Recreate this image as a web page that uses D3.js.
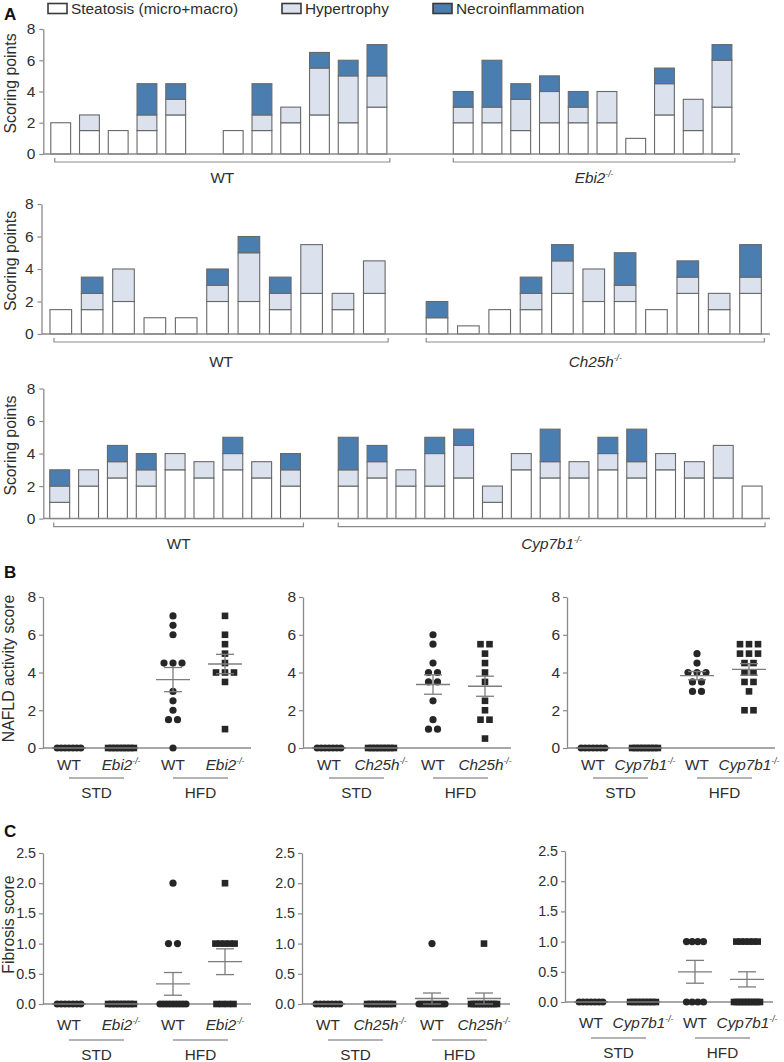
<!DOCTYPE html>
<html><head><meta charset="utf-8">
<script src="https://cdn.jsdelivr.net/npm/d3@7"></script>
<style>
body{margin:0;background:#fff;}
svg text{font-family:"Liberation Sans",Arial,Helvetica,sans-serif;}
</style></head><body>
<svg id="fig" width="784" height="1062"></svg>
<script>
// ---------------- DATA ----------------
const legendLabels = ["Steatosis (micro+macro)", "Hypertrophy", "Necroinflammation"];
const koNames = ["Ebi2", "Ch25h", "Cyp7b1"];
const yTicksA = [0, 2, 4, 6, 8];
const yTicksB = [0, 2, 4, 6, 8];
const yTicksC = [0, 0.5, 1.0, 1.5, 2.0, 2.5];
const groupLabels = ["WT", "KO", "WT", "KO"];
const dietLabels = ["STD", "HFD"];

// Panel A, row 1: WT vs Ebi2-/-
const a1WT_steat = [2, 1.5, 1.5, 1.5, 2.5, 0, 1.5, 1.5, 2, 2.5, 2, 3];
const a1WT_hyp   = [0, 1, 0, 1, 1, 0, 0, 1, 1, 3, 3, 2];
const a1WT_nec   = [0, 0, 0, 2, 1, 0, 0, 2, 0, 1, 1, 2];
const a1KO_steat = [2, 2, 1.5, 2, 2, 2, 1, 2.5, 1.5, 3];
const a1KO_hyp   = [1, 1, 2, 2, 1, 2, 0, 2, 2, 3];
const a1KO_nec   = [1, 3, 1, 1, 1, 0, 0, 1, 0, 1];
// Panel A, row 2: WT vs Ch25h-/-
const a2WT_steat = [1.5, 1.5, 2, 1, 1, 2, 2, 1.5, 2.5, 1.5, 2.5];
const a2WT_hyp   = [0, 1, 2, 0, 0, 1, 3, 1, 3, 1, 2];
const a2WT_nec   = [0, 1, 0, 0, 0, 1, 1, 1, 0, 0, 0];
const a2KO_steat = [1, 0.5, 1.5, 1.5, 2.5, 2, 2, 1.5, 2.5, 1.5, 2.5];
const a2KO_hyp   = [0, 0, 0, 1, 2, 2, 1, 0, 1, 1, 1];
const a2KO_nec   = [1, 0, 0, 1, 1, 0, 2, 0, 1, 0, 2];
// Panel A, row 3: WT vs Cyp7b1-/-
const a3WT_steat = [1, 2, 2.5, 2, 3, 2.5, 3, 2.5, 2];
const a3WT_hyp   = [1, 1, 1, 1, 1, 1, 1, 1, 1];
const a3WT_nec   = [1, 0, 1, 1, 0, 0, 1, 0, 1];
const a3KO_steat = [2, 2.5, 2, 2, 2.5, 1, 3, 2.5, 2.5, 3, 2.5, 3, 2.5, 2.5, 2];
const a3KO_hyp   = [1, 1, 1, 2, 2, 1, 1, 1, 1, 1, 1, 1, 1, 2, 0];
const a3KO_nec   = [2, 1, 0, 1, 1, 0, 0, 2, 0, 1, 2, 0, 0, 0, 0];

// Panel B: NAFLD activity score (WT STD, KO STD, WT HFD, KO HFD)
const b1WT_STD = [0, 0, 0, 0, 0, 0, 0];
const b1KO_STD = [0, 0, 0, 0, 0, 0, 0, 0];
const b1WT_HFD = [7, 6.5, 6, 4.5, 4.5, 4.5, 3, 2.5, 2, 1.5, 1.5, 0];
const b1KO_HFD = [7, 6, 5.5, 5, 4.5, 4, 4, 4, 3.5, 1];
const b2WT_STD = [0, 0, 0, 0, 0, 0, 0];
const b2KO_STD = [0, 0, 0, 0, 0, 0, 0, 0];
const b2WT_HFD = [6, 5.5, 4.5, 4, 4, 3.5, 3.5, 2.5, 1.5, 1, 1];
const b2KO_HFD = [5.5, 5.5, 5, 4.5, 4, 3.5, 2.5, 2, 1.5, 1.5, 0.5];
const b3WT_STD = [0, 0, 0, 0, 0, 0, 0];
const b3KO_STD = [0, 0, 0, 0, 0, 0, 0, 0];
const b3WT_HFD = [5, 4.5, 4, 4, 4, 3.5, 3.5, 3, 3];
const b3KO_HFD = [5.5, 5.5, 5.5, 5, 5, 5, 4.5, 4.5, 4, 4, 3.5, 3.5, 3, 2, 2];

// Panel C: Fibrosis score
const c1WT_STD = [0, 0, 0, 0, 0, 0, 0];
const c1KO_STD = [0, 0, 0, 0, 0, 0, 0, 0];
const c1WT_HFD = [2, 1, 1, 0, 0, 0, 0, 0, 0, 0, 0, 0];
const c1KO_HFD = [2, 1, 1, 1, 1, 1, 0, 0, 0, 0];
const c2WT_STD = [0, 0, 0, 0, 0, 0, 0];
const c2KO_STD = [0, 0, 0, 0, 0, 0, 0, 0];
const c2WT_HFD = [1, 0, 0, 0, 0, 0, 0, 0, 0, 0, 0];
const c2KO_HFD = [1, 0, 0, 0, 0, 0, 0, 0, 0, 0, 0];
const c3WT_STD = [0, 0, 0, 0, 0, 0, 0];
const c3KO_STD = [0, 0, 0, 0, 0, 0, 0, 0];
const c3WT_HFD = [1, 1, 1, 1, 0, 0, 0, 0];
const c3KO_HFD = [1, 1, 1, 1, 1, 1, 0, 0, 0, 0, 0, 0, 0, 0, 0, 0];

// ---------------- STYLE ----------------
const svg = d3.select("#fig");
const FILLS = ["#ffffff", "#dbe2ee", "#4a7db0"];
const BAR_STROKE = "#686868";
const AXIS = "#8a8a8a";
const TXT = "#2e2e2e";
const DOT = "#262626";
const MEAN = "#7d7d7d";
const FS_TICK = 15.5, FS_TICK_C = 14.3, FS_TITLE = 15.8, FS_LAB = 15.3;

function styleAxis(g, fs) {
  g.select(".domain").attr("stroke", AXIS).attr("stroke-width", 1.3);
  g.selectAll(".tick line").attr("stroke", AXIS).attr("stroke-width", 1.2);
  g.selectAll(".tick text").attr("fill", TXT).style("font-size", fs + "px");
}
function koLabel(sel, name) {
  sel.append("tspan").text(name).style("font-style", "italic");
  sel.append("tspan").text("-/-").style("font-style", "italic")
    .attr("font-size", 8.5).attr("dy", -6);
}

// Panel letters
[["A", 20], ["B", 578], ["C", 837]].forEach(([t, y]) =>
  svg.append("text").attr("x", 4).attr("y", y).text(t)
    .attr("font-weight", "bold").attr("font-size", 17).attr("fill", "#111"));

// Legend
const legendPos = [{bx: 48, tx: 71}, {bx: 282, tx: 305}, {bx: 433, tx: 456}];
legendLabels.forEach((lab, i) => {
  svg.append("rect").attr("x", legendPos[i].bx).attr("y", 3.5).attr("width", 19).attr("height", 10)
    .attr("fill", FILLS[i]).attr("stroke", "#3a3a3a").attr("stroke-width", 1.6);
  svg.append("text").attr("x", legendPos[i].tx).attr("y", 13.8).text(lab)
    .attr("font-size", 15.4).attr("fill", TXT);
});

// ---------------- PANEL A ----------------
const rows = [
  {s: [a1WT_steat, a1KO_steat], h: [a1WT_hyp, a1KO_hyp], n: [a1WT_nec, a1KO_nec], ko: koNames[0],
   gap: 2, yTop: 29, yBot: 154, axisX: 43.3, xEnd: 740, start: 60.7, step: 28.75, labY: 183},
  {s: [a2WT_steat, a2KO_steat], h: [a2WT_hyp, a2KO_hyp], n: [a2WT_nec, a2KO_nec], ko: koNames[1],
   gap: 1, yTop: 204, yBot: 334, axisX: 41.5, xEnd: 770, start: 60.8, step: 31.35, labY: 367},
  {s: [a3WT_steat, a3KO_steat], h: [a3WT_hyp, a3KO_hyp], n: [a3WT_nec, a3KO_nec], ko: koNames[2],
   gap: 1, yTop: 388.5, yBot: 518.6, axisX: 43.3, xEnd: 770, start: 59.7, step: 28.85, labY: 549}
];

rows.forEach(cfg => {
  const nW = cfg.s[0].length, nK = cfg.s[1].length;
  const nSlots = nW + cfg.gap + nK;
  const x = d3.scaleBand().domain(d3.range(nSlots))
    .range([cfg.start - cfg.step / 2, cfg.start - cfg.step / 2 + nSlots * cfg.step])
    .paddingInner(0.31).paddingOuter(0.155);
  const y = d3.scaleLinear().domain([0, 8]).range([cfg.yBot, cfg.yTop]);
  const recs = [];
  cfg.s[0].forEach((v, i) => recs.push({slot: i, steat: v, hyp: cfg.h[0][i], nec: cfg.n[0][i]}));
  cfg.s[1].forEach((v, i) => recs.push({slot: nW + cfg.gap + i, steat: v, hyp: cfg.h[1][i], nec: cfg.n[1][i]}));
  const layers = d3.stack().keys(["steat", "hyp", "nec"])(recs);
  const g = svg.append("g");
  layers.forEach((layer, li) => {
    g.selectAll(null).data(layer.filter(d => d[1] - d[0] > 0)).join("rect")
      .attr("x", d => x(d.data.slot)).attr("width", x.bandwidth())
      .attr("y", d => y(d[1])).attr("height", d => y(d[0]) - y(d[1]))
      .attr("fill", FILLS[li]).attr("stroke", BAR_STROKE).attr("stroke-width", 1.1);
  });
  const ax = g.append("g").attr("transform", `translate(${cfg.axisX},0)`)
    .call(d3.axisLeft(y).tickValues(yTicksA).tickSize(4).tickSizeOuter(0).tickPadding(4));
  styleAxis(ax, FS_TICK);
  g.append("line").attr("x1", cfg.axisX).attr("x2", cfg.xEnd).attr("y1", y(0)).attr("y2", y(0))
    .attr("stroke", AXIS).attr("stroke-width", 1.5);
  // brackets
  const groups = [[0, nW - 1, "WT"], [nW + cfg.gap, nSlots - 1, cfg.ko]];
  groups.forEach(([a, b, lab], gi) => {
    const x1 = x(a) + (gi === 0 ? 4 : 0), x2 = x(b) + x.bandwidth() + 3, by = y(0) + 8;
    g.append("path").attr("d", `M${x1},${by - 4}V${by}H${x2}V${by - 4}`)
      .attr("fill", "none").attr("stroke", AXIS).attr("stroke-width", 1.2);
    const t = g.append("text").attr("x", (x1 + x2) / 2).attr("y", cfg.labY)
      .attr("text-anchor", "middle").attr("font-size", FS_LAB).attr("fill", TXT);
    if (gi === 0) t.text(lab); else koLabel(t, lab);
  });
  svg.append("text").attr("transform", `translate(15.5,${(cfg.yTop + cfg.yBot) / 2 - 8}) rotate(-90)`)
    .attr("text-anchor", "middle").attr("font-size", FS_TITLE).attr("fill", TXT).text("Scoring points");
});

// ---------------- PANELS B & C ----------------
const scatterPanels = [
  {x0: 43,  y0: 748, y1: 597, dom: [0, 8], ticks: yTicksB, fmt: d3.format("d"), ko: koNames[0], fs: FS_TICK,
   data: [b1WT_STD, b1KO_STD, b1WT_HFD, b1KO_HFD], off: [22, 30, 50], title: "NAFLD activity score"},
  {x0: 303, y0: 748, y1: 597, dom: [0, 8], ticks: yTicksB, fmt: d3.format("d"), ko: koNames[1], fs: FS_TICK,
   data: [b2WT_STD, b2KO_STD, b2WT_HFD, b2KO_HFD], off: [22, 30, 50]},
  {x0: 567, y0: 748, y1: 597, dom: [0, 8], ticks: yTicksB, fmt: d3.format("d"), ko: koNames[2], fs: FS_TICK,
   data: [b3WT_STD, b3KO_STD, b3WT_HFD, b3KO_HFD], off: [22, 30, 50]},
  {x0: 43,  y0: 1004, y1: 853, dom: [0, 2.5], ticks: yTicksC, fmt: d3.format(".1f"), ko: koNames[0], fs: FS_TICK_C,
   data: [c1WT_STD, c1KO_STD, c1WT_HFD, c1KO_HFD], off: [26, 36, 56], title: "Fibrosis score"},
  {x0: 302, y0: 1004, y1: 853, dom: [0, 2.5], ticks: yTicksC, fmt: d3.format(".1f"), ko: koNames[1], fs: FS_TICK_C,
   data: [c2WT_STD, c2KO_STD, c2WT_HFD, c2KO_HFD], off: [26, 36, 56]},
  {x0: 565, y0: 1002, y1: 851, dom: [0, 2.5], ticks: yTicksC, fmt: d3.format(".1f"), ko: koNames[2], fs: FS_TICK_C,
   data: [c3WT_STD, c3KO_STD, c3WT_HFD, c3KO_HFD], off: [26, 36, 56]}
];

scatterPanels.forEach(p => {
  const W = 208;
  const g = svg.append("g");
  const y = d3.scaleLinear().domain(p.dom).range([p.y0, p.y1]);
  const x = d3.scalePoint().domain(d3.range(4)).range([p.x0, p.x0 + W]).padding(0.5);
  const ax = g.append("g").attr("transform", `translate(${p.x0},0)`)
    .call(d3.axisLeft(y).tickValues(p.ticks).tickFormat(p.fmt).tickSize(4).tickSizeOuter(0).tickPadding(3));
  styleAxis(ax, p.fs);
  g.append("line").attr("x1", p.x0).attr("x2", p.x0 + W).attr("y1", y(0)).attr("y2", y(0))
    .attr("stroke", AXIS).attr("stroke-width", 1.3);

  p.data.forEach((vals, gi) => {
    const cx = x(gi);
    const byVal = d3.group(vals, v => v);
    const pts = [];
    byVal.forEach((arr, v) => {
      const n = arr.length;
      const span = n <= 3 ? 9 * (n - 1) : Math.min(26, 17 + 2.2 * (n - 4));
      const sp = n > 1 ? span / (n - 1) : 0;
      arr.forEach((_, k) => pts.push({x: cx + (k - (n - 1) / 2) * sp, v}));
    });
    if (gi % 2 === 0) {
      g.selectAll(null).data(pts).join("circle")
        .attr("cx", d => d.x).attr("cy", d => y(d.v)).attr("r", 3.6).attr("fill", DOT);
    } else {
      g.selectAll(null).data(pts).join("rect")
        .attr("x", d => d.x - 3.3).attr("y", d => y(d.v) - 3.3)
        .attr("width", 6.6).attr("height", 6.6).attr("fill", DOT);
    }
    // mean ± SEM
    const m = d3.mean(vals);
    const sem = d3.deviation(vals) / Math.sqrt(vals.length);
    const ml = g.append("g").attr("stroke", MEAN).attr("stroke-width", 1.3);
    ml.append("line").attr("x1", cx - 17).attr("x2", cx + 17).attr("y1", y(m)).attr("y2", y(m));
    if (sem > 0) {
      ml.append("line").attr("x1", cx).attr("x2", cx).attr("y1", y(m - sem)).attr("y2", y(m + sem));
      [m - sem, m + sem].forEach(v =>
        ml.append("line").attr("x1", cx - 9).attr("x2", cx + 9).attr("y1", y(v)).attr("y2", y(v)));
    }
    // genotype labels
    const t = g.append("text").attr("x", cx).attr("y", p.y0 + p.off[0])
      .attr("text-anchor", "middle").attr("font-size", FS_LAB).attr("fill", TXT);
    if (gi % 2 === 0) t.text(groupLabels[gi]); else koLabel(t, p.ko);
  });
  // diet groups
  dietLabels.forEach((lab, di) => {
    const xa = x(di * 2), xb = x(di * 2 + 1) + 3;
    g.append("line").attr("x1", xa).attr("x2", xb).attr("y1", p.y0 + p.off[1]).attr("y2", p.y0 + p.off[1])
      .attr("stroke", "#9a9a9a").attr("stroke-width", 1.5);
    g.append("text").attr("x", (xa + xb) / 2).attr("y", p.y0 + p.off[2]).attr("text-anchor", "middle")
      .attr("font-size", FS_LAB).attr("fill", TXT).text(lab);
  });
  if (p.title) {
    svg.append("text").attr("transform", `translate(14,${(p.y0 + p.y1) / 2 - 4}) rotate(-90)`)
      .attr("text-anchor", "middle").attr("font-size", FS_TITLE).attr("fill", TXT).text(p.title);
  }
});
</script>
</body></html>
